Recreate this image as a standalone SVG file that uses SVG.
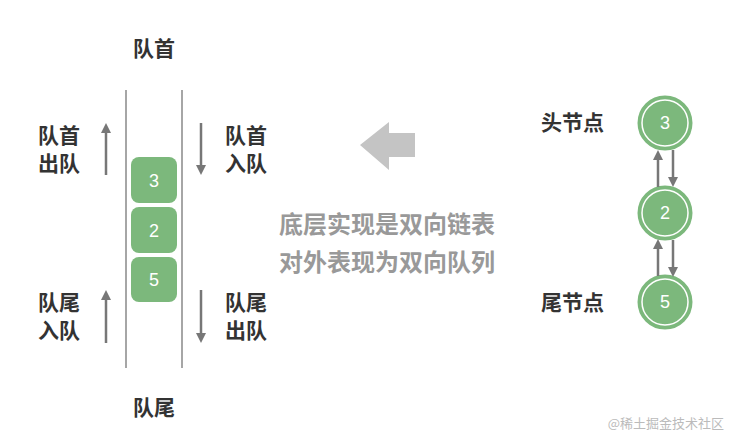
<svg xmlns="http://www.w3.org/2000/svg" width="733" height="436" viewBox="0 0 733 436">
<defs>
<marker id="ah" markerWidth="12" markerHeight="12" refX="6" refY="6" orient="auto" markerUnits="userSpaceOnUse"><path d="M0,1 L10,6 L0,11 Z" fill="#777"/></marker>
<style>
.t{font-family:"Noto Sans CJK SC","Liberation Sans",sans-serif;font-weight:bold;font-size:21px;fill:#333}
.g{font-family:"Noto Sans CJK SC",sans-serif;font-weight:bold;font-size:24px;fill:#999}
.n{font-family:"Liberation Sans",sans-serif;font-size:18px;fill:#fff;text-anchor:middle}
.box{fill:#7cb87c}
.c{fill:#7cb87c;stroke:#7cb87c;stroke-width:3}
.ci{fill:none;stroke:#fff;stroke-width:1.5}
.a{stroke:#777;stroke-width:2.5;fill:none;marker-end:url(#ah)}
.w{stroke:#888;stroke-width:1.5}
</style>
</defs>
<rect width="733" height="436" fill="#fff"/>
<g id="queue">
<line class="w" x1="126" y1="90" x2="126" y2="368"/>
<line class="w" x1="182" y1="90" x2="182" y2="368"/>
<text class="t" x="154" y="56" text-anchor="middle">队首</text>
<text class="t" x="154" y="415" text-anchor="middle">队尾</text>
</g>
<g id="box3"><rect class="box" x="131" y="157" width="46" height="46" rx="8"/><text class="n" x="154" y="187">3</text></g>
<g id="box2"><rect class="box" x="131" y="207" width="46" height="46" rx="8"/><text class="n" x="154" y="237">2</text></g>
<g id="box5"><rect class="box" x="131" y="257" width="46" height="45" rx="8"/><text class="n" x="154" y="286">5</text></g>
<g id="labels">
<text class="t" x="38" y="143">队首</text><text class="t" x="38" y="171">出队</text>
<text class="t" x="225" y="143">队首</text><text class="t" x="225" y="171">入队</text>
<text class="t" x="38" y="310">队尾</text><text class="t" x="38" y="338">入队</text>
<text class="t" x="225" y="310">队尾</text><text class="t" x="225" y="338">出队</text>
<text class="t" x="541" y="130">头节点</text>
<text class="t" x="541" y="310">尾节点</text>
<text class="g" x="387" y="233" text-anchor="middle">底层实现是双向链表</text>
<text class="g" x="387" y="271" text-anchor="middle">对外表现为双向队列</text>
</g>
<g id="bigarrow"><polygon points="360,145 389,122 389,133 415,133 415,157 389,157 389,170" fill="#c4c4c4"/></g>
<g id="node3"><circle class="c" cx="665" cy="123" r="26"/><circle class="ci" cx="665" cy="123" r="23"/><text class="n" x="665" y="129">3</text></g>
<g id="node2"><circle class="c" cx="665" cy="213" r="26"/><circle class="ci" cx="665" cy="213" r="23"/><text class="n" x="665" y="219">2</text></g>
<g id="node5"><circle class="c" cx="665" cy="302" r="26"/><circle class="ci" cx="665" cy="302" r="23"/><text class="n" x="665" y="308">5</text></g>
<g id="connectors">
<line class="a" x1="106" y1="175" x2="106" y2="127"/>
<line class="a" x1="201" y1="123" x2="201" y2="171"/>
<line class="a" x1="106" y1="343" x2="106" y2="294"/>
<line class="a" x1="201" y1="290" x2="201" y2="339"/>
<line class="a" x1="658" y1="187" x2="658" y2="154"/>
<line class="a" x1="673" y1="150" x2="673" y2="183"/>
<line class="a" x1="658" y1="276" x2="658" y2="243"/>
<line class="a" x1="673" y1="240" x2="673" y2="273"/>
</g>
<text x="724" y="428" text-anchor="end" font-family="Noto Sans CJK SC,sans-serif" font-size="13" fill="#bbb">@稀土掘金技术社区</text>
</svg>
